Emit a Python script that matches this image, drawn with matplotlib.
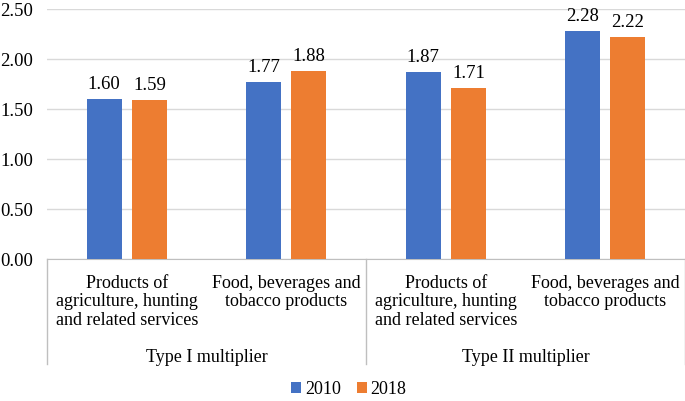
import numpy as np
import matplotlib.pyplot as plt

plt.rcParams['font.family'] = ['Liberation Serif', 'DejaVu Serif']
plt.rcParams['font.size'] = 13

# data
categories = ["Products of\nagriculture, hunting\nand related services",
              "Food, beverages and\ntobacco products",
              "Products of\nagriculture, hunting\nand related services",
              "Food, beverages and\ntobacco products"]
groups = ["Type I multiplier", "Type II multiplier"]
vals_2010 = [1.60, 1.77, 1.87, 2.28]
vals_2018 = [1.59, 1.88, 1.71, 2.22]

blue = '#4472C4'
orange = '#ED7D31'
grid_col = '#D9D9D9'
line_col = '#BFBFBF'

fig = plt.figure(figsize=(6.85, 4.02), dpi=100)
ax = fig.add_axes([47 / 685, 142 / 402, 638 / 685, 250 / 402])

x = np.arange(len(categories))
w = 0.22
off = 0.142
b1 = ax.bar(x - off, vals_2010, w, color=blue, label='2010', zorder=3)
b2 = ax.bar(x + off, vals_2018, w, color=orange, label='2018', zorder=3)
ax.bar_label(b1, fmt='%.2f', padding=5, fontsize=13.5)
ax.bar_label(b2, fmt='%.2f', padding=5, fontsize=13.5)

ax.set_xlim(-0.5, len(categories) - 0.5)
ax.set_ylim(0, 2.5)
ax.set_yticks(np.arange(0, 2.51, 0.5))
ax.set_yticklabels([f'{v:.2f}' for v in np.arange(0, 2.51, 0.5)], fontsize=13.5)
ax.tick_params(axis='y', length=0, pad=10)
ax.tick_params(axis='x', length=0)
ax.set_xticks([])
ax.yaxis.grid(True, color=grid_col, linewidth=1, zorder=0)
for s in ['top', 'right', 'left']:
    ax.spines[s].set_visible(False)
ax.spines['bottom'].set_color(line_col)

# category labels
trans = ax.get_xaxis_transform()
for i, c in enumerate(categories):
    ax.text(i, -0.058, c, transform=trans, ha='center', va='top',
            linespacing=1.15)
for j, g in enumerate(groups):
    ax.text(2 * j + 0.5, -0.39, g, transform=trans, ha='center', va='center')

# separators
for xv in [-0.5, 1.5, 3.5]:
    ax.plot([xv, xv], [0, -0.42], transform=trans, color=line_col,
            linewidth=1, clip_on=False)

fig.legend(loc='center', bbox_to_anchor=(349 / 685, 12 / 402), ncol=2, frameon=False,
           handlelength=0.55, handleheight=0.55, handletextpad=0.2,
           columnspacing=0.9, borderpad=0)

fig.savefig('out.png', dpi=100)
